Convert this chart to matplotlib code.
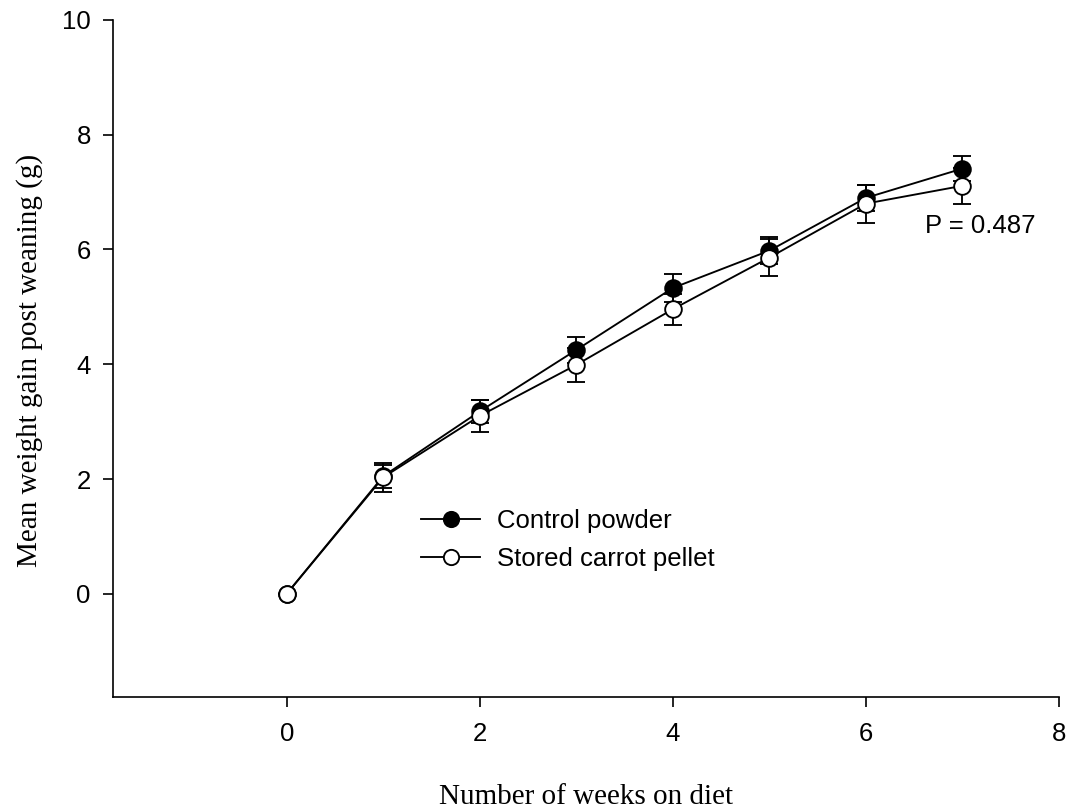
import numpy as np
import matplotlib
matplotlib.use("Agg")
import matplotlib.pyplot as plt
from matplotlib.lines import Line2D

# weight gain after weaning, mean +/- SE
weeks = [0, 1, 2, 3, 4, 5, 6, 7]
control = [0.0, 2.05, 3.18, 4.25, 5.33, 5.98, 6.90, 7.41]
control_se = [0.0, 0.20, 0.20, 0.23, 0.25, 0.24, 0.23, 0.22]
stored = [0.0, 2.03, 3.10, 3.99, 4.96, 5.86, 6.80, 7.11]
stored_se = [0.0, 0.25, 0.28, 0.30, 0.27, 0.32, 0.33, 0.31]

sans = "Liberation Sans"
serif = "Liberation Serif"
fs = 18.5      # tick labels, legend, annotation
fs_lab = 21    # axis titles
lw = 1.35

fig = plt.figure(figsize=(10.68, 8.09), dpi=100)
ax = fig.add_axes([0.1058, 0.1384, 0.8858, 0.8369])

style = dict(color="black", lw=lw, ms=12, mew=lw, capsize=6.8,
             elinewidth=lw, capthick=lw)
ax.errorbar(weeks, control, yerr=control_se, fmt="-o", mfc="black",
            mec="black", zorder=3, **style)
ax.errorbar(weeks, stored, yerr=stored_se, fmt="-o", mfc="white",
            mec="black", zorder=4, **style)

ax.set_xlim(-1.8, 8)
ax.set_ylim(-1.8, 10)
ax.set_xticks([0, 2, 4, 6, 8])
ax.set_yticks([0, 2, 4, 6, 8, 10])
for s in ["top", "right"]:
    ax.spines[s].set_visible(False)
for s in ["left", "bottom"]:
    ax.spines[s].set_linewidth(1.2)
ax.tick_params(direction="out", length=7, width=1.2)
ax.tick_params(axis="x", pad=11)
ax.tick_params(axis="y", pad=9)
for lab in ax.get_xticklabels() + ax.get_yticklabels():
    lab.set_fontfamily(sans)
    lab.set_fontsize(fs)

ax.set_xlabel("Number of weeks on diet", fontfamily=serif, fontsize=fs_lab)
ax.set_ylabel("Mean weight gain post weaning (g)", fontfamily=serif,
              fontsize=fs_lab)
ax.xaxis.set_label_coords(0.5, -0.128)
ax.yaxis.set_label_coords(-0.074, 0.497)

ax.text(6.61, 6.41, "P = 0.487", fontfamily=sans, fontsize=fs,
        ha="left", va="center")

handles = [
    Line2D([], [], color="black", lw=lw, marker="o", ms=11, mew=lw,
           mfc="black", mec="black"),
    Line2D([], [], color="black", lw=lw, marker="o", ms=11, mew=lw,
           mfc="white", mec="black"),
]
ax.legend(handles, ["Control powder", "Stored carrot pellet"],
          loc="upper left", bbox_to_anchor=(421 / 1068, 1 - 509 / 809),
          bbox_transform=fig.transFigure, frameon=False,
          prop={"family": sans, "size": fs}, handlelength=2.3,
          handletextpad=0.65, labelspacing=0.55, borderpad=0,
          borderaxespad=0)

fig.savefig("out.png", dpi=100)
